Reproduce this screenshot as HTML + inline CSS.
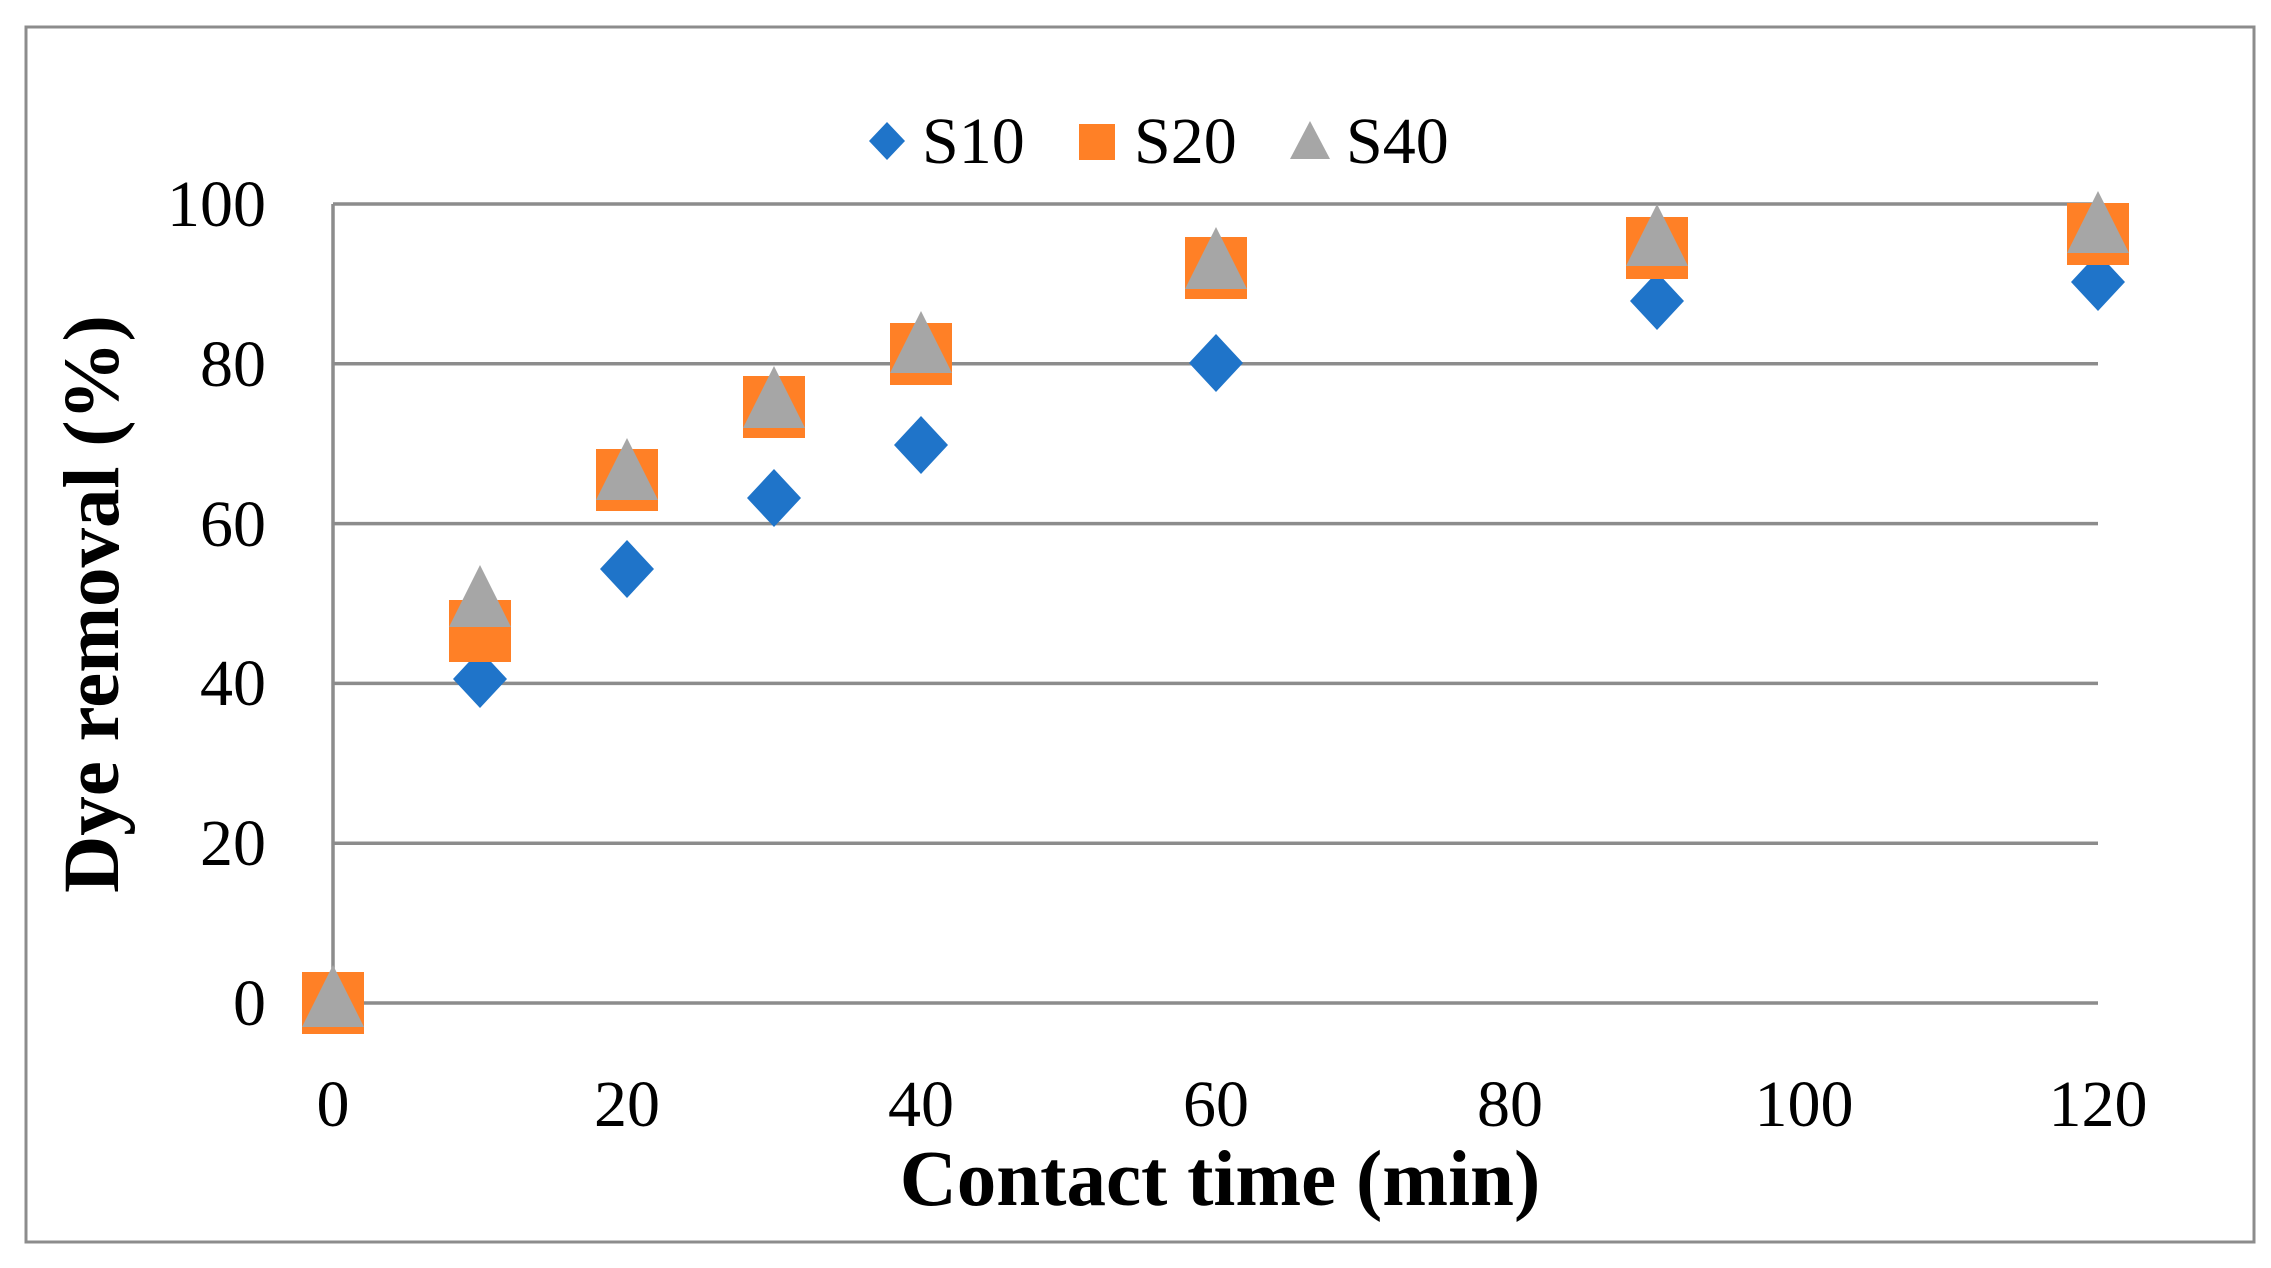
<!DOCTYPE html>
<html><head><style>html,body{margin:0;padding:0;background:#fff}svg{display:block}</style></head>
<body>
<svg width="2271" height="1268" viewBox="0 0 2271 1268" xmlns="http://www.w3.org/2000/svg" font-family="Liberation Serif, serif">
<rect x="0" y="0" width="2271" height="1268" fill="#fff"/>
<rect x="26" y="27" width="2228" height="1215" fill="none" stroke="#8c8c8c" stroke-width="3"/>
<g stroke="#8c8c8c" stroke-width="3.5">
<line x1="333" y1="204" x2="2098" y2="204"/>
<line x1="333" y1="363.8" x2="2098" y2="363.8"/>
<line x1="333" y1="523.6" x2="2098" y2="523.6"/>
<line x1="333" y1="683.4" x2="2098" y2="683.4"/>
<line x1="333" y1="843.2" x2="2098" y2="843.2"/>
<line x1="333" y1="1003" x2="2098" y2="1003"/>
<line x1="333" y1="204" x2="333" y2="1003"/>
</g>
<g font-size="66" fill="#000" text-anchor="end">
<text x="266" y="226">100</text>
<text x="266" y="386">80</text>
<text x="266" y="546">60</text>
<text x="266" y="705">40</text>
<text x="266" y="865">20</text>
<text x="266" y="1025">0</text>
</g>
<g font-size="66" fill="#000" text-anchor="middle">
<text x="333" y="1126">0</text>
<text x="627" y="1126">20</text>
<text x="921" y="1126">40</text>
<text x="1216" y="1126">60</text>
<text x="1510" y="1126">80</text>
<text x="1804" y="1126">100</text>
<text x="2098" y="1126">120</text>
</g>
<text x="1220" y="1205" font-size="79" font-weight="bold" text-anchor="middle">Contact time (min)</text>
<text transform="translate(118,604) rotate(-90)" font-size="79" font-weight="bold" text-anchor="middle">Dye removal (%)</text>
<polygon points="887,122 905,141 887,160 869,141" fill="#1f74c9"/>
<text x="922" y="163" font-size="66">S10</text>
<rect x="1079" y="124" width="36" height="36" fill="#ff8026"/>
<text x="1134" y="163" font-size="66">S20</text>
<polygon points="1310,121 1330,159 1290,159" fill="#a6a6a6"/>
<text x="1346" y="163" font-size="66">S40</text>
<g fill="#1f74c9">
<polygon points="333,974 360,1003 333,1032 306,1003"/>
<polygon points="480,650 507,679 480,708 453,679"/>
<polygon points="627,540 654,569 627,598 600,569"/>
<polygon points="774,469 801,498 774,527 747,498"/>
<polygon points="921,416 948,445 921,474 894,445"/>
<polygon points="1216,334 1243,363 1216,392 1189,363"/>
<polygon points="1657,272 1684,301 1657,330 1630,301"/>
<polygon points="2098,253 2125,282 2098,311 2071,282"/>
</g>
<g fill="#ff8026">
<rect x="302" y="972" width="62" height="62"/>
<rect x="449" y="600" width="62" height="62"/>
<rect x="596" y="449" width="62" height="62"/>
<rect x="743" y="376" width="62" height="62"/>
<rect x="890" y="323" width="62" height="62"/>
<rect x="1185" y="237" width="62" height="62"/>
<rect x="1626" y="217" width="62" height="62"/>
<rect x="2067" y="203" width="62" height="62"/>
</g>
<g fill="#a6a6a6">
<polygon points="333,965 364,1027 302,1027"/>
<polygon points="480,565 511,627 449,627"/>
<polygon points="627,438 658,500 596,500"/>
<polygon points="774,366 805,428 743,428"/>
<polygon points="921,311 952,373 890,373"/>
<polygon points="1216,227 1247,289 1185,289"/>
<polygon points="1657,204 1688,266 1626,266"/>
<polygon points="2098,191 2129,253 2067,253"/>
</g>
</svg>
</body></html>
